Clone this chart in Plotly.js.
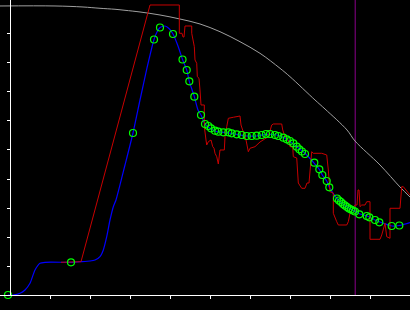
<!DOCTYPE html>
<html>
<head>
<meta charset="utf-8">
<script src="https://cdn.plot.ly/plotly-3.0.1.min.js"></script>
<style>html,body{margin:0;padding:0;background:#000;}#chart{width:410px;height:310px;}</style>
</head>
<body>
<div id="chart"></div>
<script>
// Gray reference curve
const grayX = [-0.25,1.125,1.825,2.25,2.625,2.875,3.25,3.75,4.25,4.75,5.25,5.75,6.25,6.75,7.0,7.625,7.875,8.425,8.625,9.25,9.75,10.0];
const grayY = [9.966,9.966,9.931,9.886,9.852,9.817,9.759,9.655,9.517,9.345,9.079,8.734,8.334,7.817,7.528,6.724,6.414,5.690,5.310,4.483,3.724,3.379];

// Red noisy series
const redX = [1.275,1.775,3.5,4.233,4.233,4.3,4.325,4.35,4.375,4.543,4.543,4.583,4.608,4.625,4.668,4.683,4.725,4.75,4.775,4.858,4.858,4.9,4.918,4.958,5.025,5.068,5.1,5.125,5.168,5.208,5.225,5.25,5.358,5.375,5.418,5.458,5.583,5.708,5.75,5.775,5.825,5.9,5.958,6.0,6.125,6.208,6.25,6.458,6.5,6.543,6.583,6.793,6.818,6.875,6.95,7.0,7.068,7.083,7.168,7.188,7.208,7.293,7.375,7.425,7.475,7.543,7.583,7.793,7.918,7.958,7.983,8.0,8.083,8.083,8.168,8.208,8.418,8.458,8.5,8.625,8.675,8.7,8.725,8.75,8.793,8.875,8.918,9.0,9.0,9.25,9.293,9.333,9.375,9.418,9.5,9.5,9.75,9.793,9.833,10.0];
const redY = [1.128,1.148,10.0,10.0,9.024,9.024,8.897,8.897,9.276,9.276,9.024,8.734,8.562,8.103,7.99,7.528,7.472,7.069,6.552,6.552,5.803,5.345,5.172,5.286,5.345,5.114,5.059,4.886,4.769,4.517,4.655,5.0,5.0,5.459,5.803,6.093,6.128,6.148,6.172,5.862,5.621,5.345,4.941,5.059,5.114,5.231,5.276,5.459,5.69,5.862,5.897,5.897,5.69,5.459,5.345,5.114,5.103,4.769,4.724,4.31,3.862,3.679,3.679,3.862,3.862,4.941,4.886,4.886,4.828,4.31,3.852,3.562,3.517,2.817,2.528,2.414,2.414,2.528,2.817,3.103,3.103,3.621,3.621,3.045,3.103,3.103,3.217,3.217,1.921,1.921,2.069,2.241,2.472,2.01,1.955,2.99,2.99,3.734,3.734,3.448];

// Blue smooth series
const blueX = [-0.05,0.075,0.25,0.375,0.5,0.625,0.75,0.875,1.525,1.75,2.0,2.125,2.25,2.333,2.418,2.5,2.583,2.65,2.875,3.075,3.25,3.425,3.6,3.675,3.75,3.875,3.975,4.075,4.2,4.313,4.418,4.483,4.608,4.7,4.775,4.875,5.0,5.168,5.418,5.668,5.918,6.168,6.418,6.668,6.918,7.168,7.375,7.6,7.733,7.808,7.918,7.983,8.175,8.375,8.625,8.75,8.925,9.125,9.25,9.55,9.725,10.0];
const blueY = [0,0,0.059,0.172,0.403,0.862,1.093,1.128,1.128,1.148,1.172,1.207,1.321,1.552,2.01,2.586,3.045,3.276,4.483,5.586,6.724,7.828,8.81,9.069,9.224,9.276,9.19,9.0,8.586,8.121,7.759,7.369,6.838,6.379,6.207,5.897,5.748,5.631,5.597,5.541,5.483,5.483,5.541,5.517,5.369,5.114,4.886,4.552,4.334,4.138,3.931,3.714,3.328,3.086,2.879,2.793,2.724,2.586,2.517,2.379,2.397,2.5];

// Green sampled points
const ptX = [-0.05,1.525,3.075,3.6,3.75,4.075,4.313,4.418,4.483,4.608,4.775,4.875,4.958,5.025,5.125,5.208,5.333,5.458,5.543,5.668,5.793,5.918,6.043,6.168,6.293,6.4,6.5,6.625,6.708,6.833,6.918,7.0,7.083,7.168,7.233,7.3,7.375,7.608,7.733,7.808,7.918,7.983,8.175,8.225,8.275,8.325,8.375,8.425,8.475,8.525,8.575,8.625,8.733,8.918,8.983,9.125,9.233,9.543,9.733];
const ptY = [0,1.128,5.586,8.81,9.224,9.0,8.121,7.759,7.369,6.838,6.207,5.897,5.828,5.748,5.666,5.631,5.61,5.61,5.576,5.541,5.517,5.483,5.483,5.493,5.517,5.552,5.552,5.517,5.483,5.424,5.369,5.31,5.231,5.114,5.024,4.948,4.862,4.562,4.334,4.138,3.931,3.714,3.328,3.259,3.207,3.138,3.086,3.034,2.983,2.948,2.914,2.879,2.783,2.724,2.679,2.586,2.507,2.379,2.397];

// Vertical marker position
const markerX = [8.63];

// Axis ticks
const xTicks = [1,2,3,4,5,6,7,8,9];
const yTicks = [1,2,3,4,5,6,7,8,9];

const traces = [
  {x: grayX, y: grayY, mode: 'lines', line: {color: '#a0a0a0', width: 1, shape: 'spline'}, hoverinfo: 'skip'},
  {x: blueX, y: blueY, mode: 'lines', line: {color: '#0000ff', width: 1.2, shape: 'spline', smoothing: 0.6}, hoverinfo: 'skip'},
  {x: redX, y: redY, mode: 'lines', line: {color: '#c80000', width: 1}, hoverinfo: 'skip'},
  {x: ptX, y: ptY, mode: 'markers', cliponaxis: false,
   marker: {symbol: 'circle-open', size: 7, color: '#00ff00', line: {width: 1.2, color: '#00ff00'}}, hoverinfo: 'skip'}
];

const layout = {
  width: 410, height: 310,
  margin: {l: 0, r: 0, t: 0, b: 15, pad: 0},
  paper_bgcolor: '#000', plot_bgcolor: '#000',
  showlegend: false,
  xaxis: {range: [-0.25, 10], showgrid: false, zeroline: false, showline: true, linecolor: '#fff', linewidth: 1,
          ticks: 'outside', ticklen: 3, tickcolor: '#fff', tickwidth: 1, tickmode: 'array', tickvals: xTicks, showticklabels: false},
  yaxis: {range: [0, 10.172], showgrid: false, zeroline: false, showline: true, linecolor: '#fff', linewidth: 1,
          anchor: 'free', position: 10/410,
          ticks: 'outside', ticklen: 3, tickcolor: '#fff', tickwidth: 1, tickmode: 'array', tickvals: yTicks, showticklabels: false},
  shapes: markerX.map(v => ({type: 'line', xref: 'x', yref: 'paper', x0: v, x1: v, y0: 0, y1: 1, layer: 'below',
                             line: {color: '#8b008b', width: 1}}))
};

Plotly.newPlot('chart', traces, layout, {staticPlot: true, displayModeBar: false});
</script>
</body>
</html>
